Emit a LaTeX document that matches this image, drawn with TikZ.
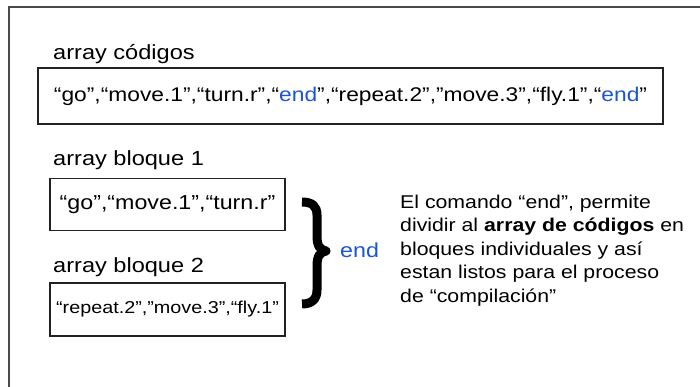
\documentclass[tikz,border=0pt]{standalone}
\usepackage{fontspec}
\setmainfont{Liberation Sans}[FakeStretch=1.15]
\definecolor{endblue}{HTML}{1A55D8}
\definecolor{framegray}{HTML}{4A4A4A}
\definecolor{boxline}{HTML}{222222}
\tikzset{
  arraybox/.style={draw=boxline, line width=1.2pt, rectangle, inner sep=0pt},
  heading/.style={anchor=base west, inner sep=0pt, font=\fontsize{20.5}{25}\selectfont},
  bodyline/.style={anchor=base west, inner sep=0pt, font=\fontsize{18.5}{23}\selectfont},
}
\begin{document}
\begin{tikzpicture}[x=1pt, y=-1pt]
  \useasboundingbox (0,0) rectangle (700,387);
  % outer frame (open on the right and bottom)
  \draw[framegray, line width=2pt] (9,388) -- (9,7) -- (701,7);

  % full code array
  \node[heading] (hcod) at (53,60) {array códigos};
  \node[arraybox, minimum width=625pt, minimum height=56pt,
        font=\fontsize{19.8}{24}\selectfont] (codes) at (350.5,96)
    {“go”,“move.1”,“turn.r”,“\textcolor{endblue}{end}”,“repeat.2”,”move.3”,“fly.1”,“\textcolor{endblue}{end}”};

  % block 1
  \node[heading] (hb1) at (53,166) {array bloque 1};
  \node[arraybox, minimum width=235pt, minimum height=52pt,
        font=\fontsize{20.2}{24}\selectfont] (blk1) at (167.5,204.5)
    {“go”,“move.1”,“turn.r”};

  % block 2
  \node[heading] (hb2) at (53,272) {array bloque 2};
  \node[arraybox, minimum width=235pt, minimum height=53pt,
        font=\fontsize{17.2}{21}\selectfont] (blk2) at (167.5,309.5)
    {“repeat.2”,”move.3”,“fly.1”};

  % curly brace grouping both blocks
  \draw[black, line width=9pt, line cap=butt, line join=round]
    (302,202) .. controls (312,202) and (317,206) .. (317,215)
    -- (317,236) .. controls (317,246) and (320,250) .. (326,251)
    .. controls (320,252) and (317,256) .. (317,266)
    -- (317,290) .. controls (317,299) and (312,304) .. (302,304);
  \node[anchor=base west, inner sep=0pt, text=endblue,
        font=\fontsize{20.2}{24}\selectfont] (endlbl) at (340,257) {end};

  % explanation text
  \node[bodyline] (p1) at (400,208) {El comando “end”, permite};
  \node[bodyline] (p2) at (400,231.5) {dividir al \textbf{array de códigos} en};
  \node[bodyline] (p3) at (400,255) {bloques individuales y así};
  \node[bodyline] (p4) at (400,278.5) {estan listos para el proceso};
  \node[bodyline] (p5) at (400,302) {de “compilación”};
\end{tikzpicture}
\end{document}
